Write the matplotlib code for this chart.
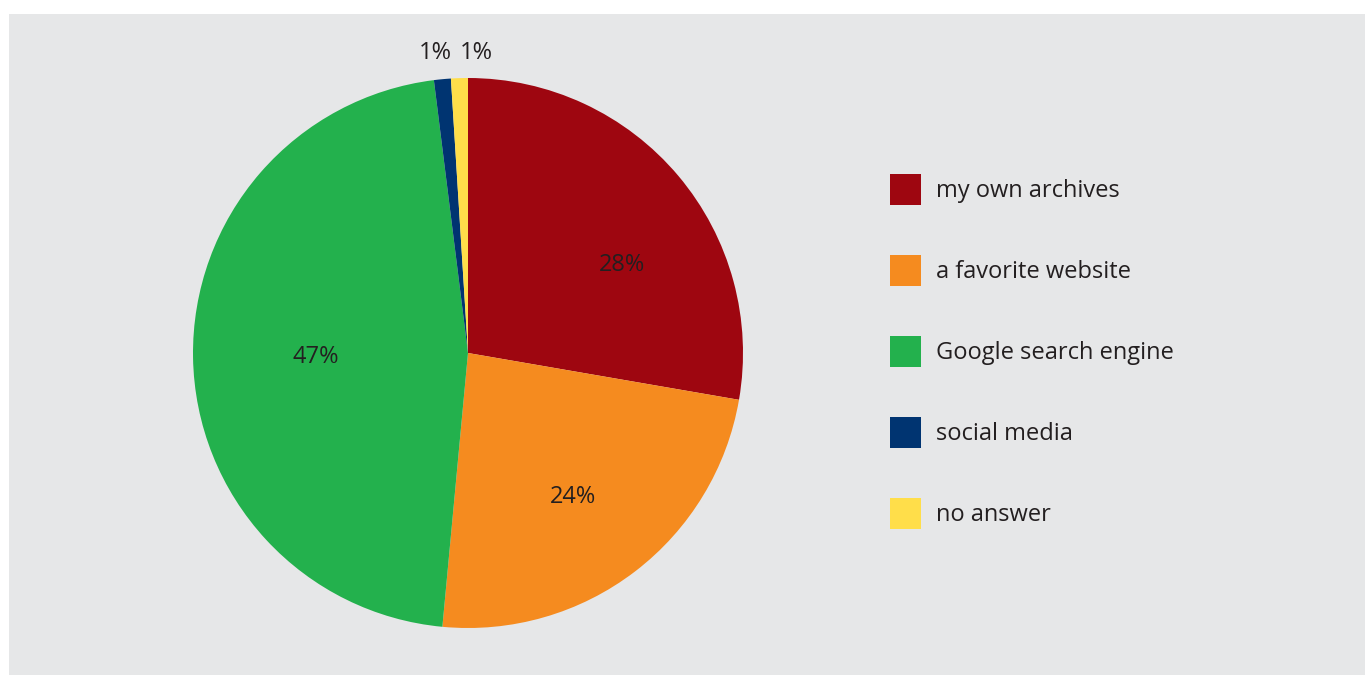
import matplotlib.pyplot as plt
from matplotlib.patches import Rectangle
import numpy as np

plt.rcParams['font.family'] = ['Open Sans', 'DejaVu Sans']

labels = ["my own archives", "a favorite website", "Google search engine", "social media", "no answer"]
shares = [28, 24, 47, 1, 1]
colors = ["#9e0610", "#f58b1f", "#23b14d", "#003471", "#ffde4a"]
pct_labels = ["28%", "24%", "47%", "1%", "1%"]

# label placement in pie data units (radius = 1)
label_xy = [(0.56, 0.32), (0.38, -0.525), (-0.555, -0.013), (-0.12, 1.09), (0.03, 1.09)]

text_color = "#231f20"
bg = "#e6e7e8"

fig = plt.figure(figsize=(13.65, 6.77), dpi=100)
fig.patch.set_facecolor("white")
fig.patches.append(Rectangle((9 / 1365, 2 / 677), 1, 661 / 677, transform=fig.transFigure,
                             facecolor=bg, edgecolor="none", zorder=-5))

cx, cy, r = 468, 353, 275
ax = fig.add_axes([(cx - r) / 1365, (677 - cy - r) / 677, 2 * r / 1365, 2 * r / 677])
ax.set_zorder(2)
ax.set_facecolor("none")
ax.pie(shares, colors=colors, startangle=90, counterclock=False,
       wedgeprops=dict(linewidth=0))
ax.set_xlim(-1, 1)
ax.set_ylim(-1, 1)
ax.set_aspect("equal")
ax.axis("off")

for txt, (x, y) in zip(pct_labels, label_xy):
    ax.text(x, y, txt, ha="center", va="center", fontsize=17, color=text_color, clip_on=False)

# legend drawn as squares + text in figure pixels
for i, (lab, col) in enumerate(zip(labels, colors)):
    yc = 677 - (189 + 81 * i)
    fig.patches.append(Rectangle((890 / 1365, (yc - 15.5) / 677), 31 / 1365, 31 / 677,
                                 transform=fig.transFigure, facecolor=col, edgecolor="none"))
    fig.text(936 / 1365, (yc - 2) / 677, lab, ha="left", va="center", fontsize=17, color=text_color)

fig.savefig("out.png", dpi=100, facecolor=fig.get_facecolor())
